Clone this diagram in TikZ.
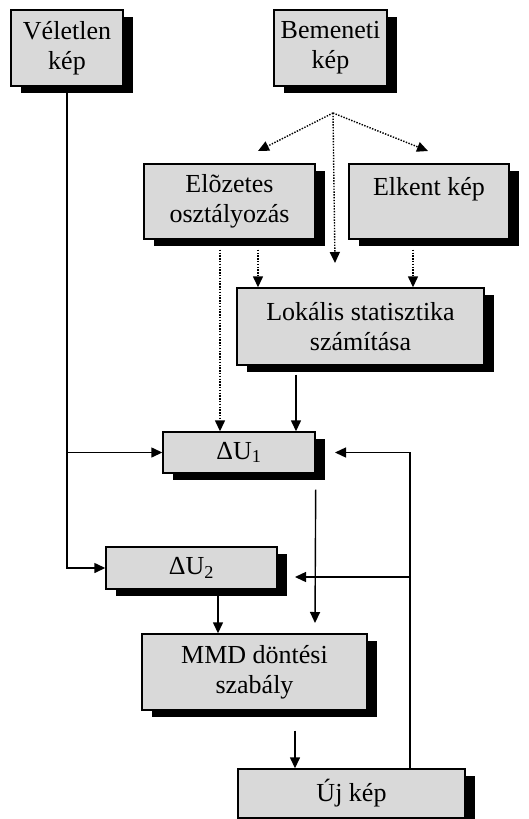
\documentclass[tikz,border=0pt]{standalone}
\usepackage{fontspec}
\setmainfont{Liberation Serif}
\usetikzlibrary{arrows.meta,shadows}

\definecolor{boxgray}{RGB}{217,217,217}
\tikzset{
    box/.style={draw,line width=1.4pt,fill=boxgray,inner sep=0pt,align=center,
        font=\fontsize{26}{30}\selectfont,
        drop shadow={shadow xshift=10pt,shadow yshift=-7pt,fill=black,opacity=1}},
    arr/.style={-{Triangle[length=11pt,width=10pt]},line width=1.4pt},
    dots/.style={arr,dash pattern=on 1.4pt off 1.4pt}
}

\begin{document}
\begin{tikzpicture}[x=1pt,y=-1pt]
    \useasboundingbox (0,0) rectangle (528,819);
    % boxes
    \node[box,minimum width=112pt,minimum height=76pt](vel) at (67,48) {Véletlen\\kép};
    \node[box,minimum width=113pt,minimum height=76pt](bem) at (330.5,48) {Bemeneti\\kép};
    \node[box,minimum width=171pt,minimum height=75pt](elo) at (229.5,201.5) {Elõzetes\\osztályozás};
    \node[box,minimum width=160pt,minimum height=75pt](elk) at (429,201.5) {Elkent kép\\\mbox{}};
    \node[box,minimum width=247pt,minimum height=77pt](lok) at (360.5,326.5) {Lokális statisztika\\számítása};
    \node[box,minimum width=152pt,minimum height=41pt](du1) at (239,452.5) {ΔU\textsubscript{1}};
    \node[box,minimum width=171pt,minimum height=42pt](du2) at (191.5,568) {ΔU\textsubscript{2}};
    \node[box,minimum width=225pt,minimum height=76pt](mmd) at (254.5,672) {MMD döntési\\szabály};
    \node[box,minimum width=227pt,minimum height=49pt](uj) at (351.5,793.5) {Új kép};
    % free ends
    \coordinate (split) at (333,113);
    \coordinate (eloend) at (258,151);
    \coordinate (elkend) at (428,151);
    \coordinate (lokend) at (335,263);
    \coordinate (mmdend) at (315,623);
    \coordinate (fbone) at (335,452.5);
    \coordinate (fbtwo) at (295,577);
    % connectors
    \draw[arr](vel.south) |- (du2.west);
    \draw[arr](vel.south |- du1.west) -- (du1.west);
    \draw[dots](split) -- (eloend);
    \draw[dots](split) -- (elkend);
    \draw[dots](split) -- (lokend);
    \draw[dots]([xshift=-9.5pt,yshift=-10pt]elo.south) -- ([xshift=-19pt]du1.north);
    \draw[dots]([xshift=28.5pt,yshift=-10pt]elo.south) -- ([xshift=-102.5pt]lok.north);
    \draw[dots]([xshift=-16pt,yshift=-10pt]elk.south) -- ([xshift=52.5pt]lok.north);
    \draw[arr]([xshift=-64.5pt,yshift=-9pt]lok.south) -- ([xshift=57pt]du1.north);
    \draw[arr]([yshift=-16pt]du1.south east) -- (mmdend);
    \draw[arr]([xshift=58.5pt]uj.north) |- (fbone);
    \draw[arr]([xshift=58.5pt]uj.north |- fbtwo) -- (fbtwo);
    \draw[arr]([xshift=26.5pt]du2.south) -- ([xshift=-36.5pt]mmd.north);
    \draw[arr]([xshift=40.5pt,yshift=-20pt]mmd.south) -- ([xshift=-56.5pt]uj.north);
\end{tikzpicture}
\end{document}
